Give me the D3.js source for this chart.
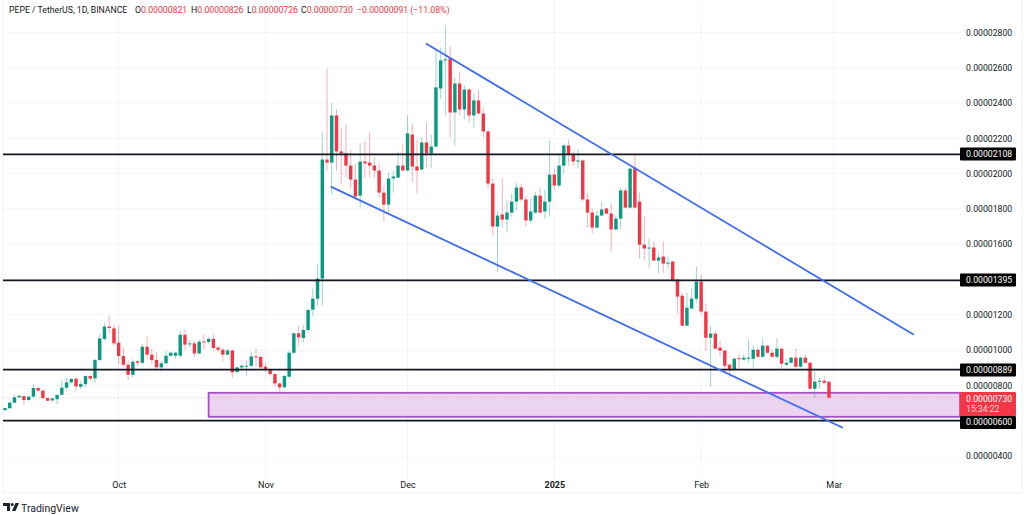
<!DOCTYPE html>
<html>
<head>
<meta charset="utf-8">
<script src="https://cdn.jsdelivr.net/npm/d3@7"></script>
<style>
  html, body { margin: 0; padding: 0; background: #fff; }
  svg { display: block; font-family: Roboto, "Liberation Sans", sans-serif; }
</style>
</head>
<body>
<script>
// All prices are in units of 0.00000001 USDT
var opens = [
  660,671,702,732,739,717,736,785,770,728,
  715,722,747,787,817,838,792,807,853,840,
  944,1063,1133,1123,1042,966,917,860,936,928,
  1019,974,944,902,925,968,968,968,1087,1032,
  1038,981,1049,1046,1063,1014,1002,974,998,876,
  902,910,911,964,961,906,887,864,811,789,
  849,985,1095,1068,1114,1229,1291,1405,2079,2062,
  2329,2125,2114,2045,1966,1875,2068,2062,2045,2017,
  1892,1824,1972,1977,2045,2017,2221,2040,2023,2176,
  2114,2153,2482,2641,2652,2346,2510,2363,2476,2329,
  2414,2340,2238,1943,1700,1768,1739,1779,1841,1921,
  1853,1734,1779,1875,1785,1841,1994,1932,2045,2159,
  2108,2068,2074,1853,1779,1694,1762,1802,1773,1683,
  1745,1904,1807,2034,1841,1597,1575,1581,1507,1530,
  1490,1501,1399,1308,1138,1235,1291,1388,1218,1070,
  1093,1014,997,917,889,954,946,951,951,1002,
  962,1025,985,962,1008,917,928,957,906,957,
  928,781,821,826,821
];
var closes = [
  671,702,732,741,717,736,785,770,728,713,
  726,745,787,817,836,794,807,853,838,944,
  1066,1133,1125,1038,966,917,860,934,928,1019,
  974,944,902,925,968,985,985,1087,1031,1038,
  981,1048,1046,1063,1012,1002,974,998,874,902,
  911,911,964,959,902,887,864,811,789,853,
  985,1095,1072,1114,1227,1291,1405,2079,2062,2329,
  2125,2114,2045,1966,1870,2068,2057,2045,2017,1892,
  1824,1972,1983,2045,2017,2227,2040,2017,2176,2114,
  2153,2488,2641,2647,2346,2510,2363,2476,2329,2414,
  2340,2238,1943,1700,1762,1739,1779,1841,1921,1853,
  1734,1785,1875,1779,1841,1994,1932,2045,2159,2108,
  2068,2074,1853,1779,1694,1762,1796,1773,1683,1745,
  1904,1807,2028,1807,1597,1575,1581,1507,1524,1490,
  1495,1393,1303,1138,1240,1291,1388,1218,1070,1093,
  1008,997,911,889,951,951,957,957,1002,962,
  1025,985,962,1008,923,928,957,906,957,928,
  781,821,826,815,730
];
var highs = [
  675,713,747,747,745,743,804,792,777,732,
  728,751,830,845,842,842,826,857,860,949,
  1091,1151,1195,1144,1138,1015,940,949,944,1034,
  1076,1006,987,940,996,993,990,1110,1114,1057,
  1049,1057,1091,1072,1087,1025,1015,1006,1000,906,
  917,940,987,1006,968,930,893,872,817,860,
  997,1100,1138,1144,1238,1348,1484,2238,2595,2399,
  2363,2261,2278,2131,2057,2170,2182,2233,2091,2057,
  1932,2006,2017,2125,2165,2329,2284,2187,2204,2289,
  2221,2698,2715,2839,2720,2544,2573,2499,2482,2454,
  2471,2369,2250,1972,1790,1972,1847,1887,1949,1943,
  1875,1858,1898,1921,1909,2187,2028,2114,2170,2193,
  2125,2136,2079,1892,1802,1790,1841,1805,1830,1762,
  1921,1921,2034,2102,1892,1756,1632,1615,1552,1615,
  1530,1507,1405,1325,1325,1348,1473,1427,1263,1138,
  1110,1053,1002,923,957,979,979,1059,1025,1014,
  1070,1027,1002,1065,1014,951,962,1008,962,974,
  934,877,843,855,826
];
var lows = [
  656,666,698,728,690,713,732,766,722,709,
  709,694,743,779,811,773,779,789,826,817,
  936,1053,1091,1025,921,902,830,845,911,921,
  949,925,893,879,921,962,949,955,1000,1015,
  962,978,1006,1034,1000,987,936,968,842,868,
  893,855,908,911,887,874,849,792,766,785,
  842,978,1025,1044,1100,1195,1252,1252,2017,1881,
  2017,1943,1977,1915,1847,1807,1977,1977,1977,1864,
  1728,1779,1892,1977,2011,2011,1949,1887,2017,2034,
  2034,2148,2420,2329,2204,2159,2329,2306,2289,2261,
  2335,2204,1915,1649,1439,1694,1666,1756,1790,1841,
  1700,1722,1773,1773,1745,1756,1909,1921,2000,2045,
  2045,2028,1841,1694,1660,1688,1756,1768,1558,1677,
  1683,1802,1802,1802,1518,1507,1467,1505,1433,1439,
  1461,1388,1206,1136,1136,1229,1269,1201,997,792,
  1006,962,877,843,883,889,940,928,900,957,
  957,979,957,951,889,911,923,900,900,923,
  779,730,781,809,726
];

var firstDay = new Date(Date.UTC(2024, 8, 7)),
    lastDay = new Date(Date.UTC(2025, 1, 28));
var days = d3.utcDays(firstDay, d3.utcDay.offset(lastDay, 1));

var priceTicks = [400, 600, 800, 1000, 1200, 1400, 1600, 1800, 2000, 2200, 2400, 2600, 2800];
var monthTicks = [[2024, 9, "Oct"], [2024, 10, "Nov"], [2024, 11, "Dec"], [2025, 0, "2025"], [2025, 1, "Feb"], [2025, 2, "Mar"]];
var levels = [2108, 1395, 889, 600];

// Drawn objects: [date, price] end points
var upperTrend = [[Date.UTC(2024, 11, 4, 21), 2737], [Date.UTC(2025, 2, 17, 22), 1087]];
var lowerTrend = [[Date.UTC(2024, 10, 14, 19), 1926], [Date.UTC(2025, 2, 2, 22), 560]];
var zoneStart = Date.UTC(2024, 9, 20), zoneTop = 758, zoneBottom = 622;
var lastPrice = 730, countdown = "15:34:22";

var titleText = "PEPE / TetherUS, 1D, BINANCE";
var ohlcText = [["O", "0.00000821", 135], ["H", "0.00000826", 191], ["L", "0.00000726", 247], ["C", "0.00000730", 301]];
var changeText = "\u22120.00000091 (\u221211.08%)";

var width = 1024, height = 515;
var plot = {left: 3, right: 960, top: 0, bottom: 480};

var green = "#089981", red = "#f23645", ink = "#131722", gridColor = "#f3f4f8";

var x = d3.scaleUtc().domain([firstDay, lastDay]).range([5, 829]);
var y = d3.scaleLinear().domain([400, 2800]).range([456, 32.3]);
var fmt = function(d) { return (d * 1e-8).toFixed(8); };

var svg = d3.select("body").append("svg")
    .attr("width", width)
    .attr("height", height);

// Frame of the pane
svg.append("path")
    .attr("d", "M3,0V493H1022V0")
    .attr("fill", "none")
    .attr("stroke", "#eef0f5");

// Grid
svg.append("g").selectAll("line")
    .data(priceTicks)
    .enter().append("line")
    .attr("x1", plot.left).attr("x2", plot.right)
    .attr("y1", d => y(d)).attr("y2", d => y(d))
    .attr("stroke", gridColor);

svg.append("g").selectAll("line")
    .data(monthTicks)
    .enter().append("line")
    .attr("x1", d => x(Date.UTC(d[0], d[1], 1))).attr("x2", d => x(Date.UTC(d[0], d[1], 1)))
    .attr("y1", plot.top).attr("y2", plot.bottom)
    .attr("stroke", gridColor);

// Purple zone
svg.append("rect")
    .attr("x", x(zoneStart))
    .attr("y", y(zoneTop))
    .attr("width", plot.right - x(zoneStart))
    .attr("height", y(zoneBottom) - y(zoneTop))
    .attr("fill", "#ead4f0")
    .attr("stroke", "#a951c4")
    .attr("stroke-width", 1.8);

// Last price line
svg.append("line")
    .attr("x1", plot.left).attr("x2", plot.right)
    .attr("y1", y(lastPrice)).attr("y2", y(lastPrice))
    .attr("stroke", red)
    .attr("stroke-opacity", 0.25)
    .attr("stroke-dasharray", "1 2");

// Candles
var candle = svg.append("g").selectAll("g")
    .data(days)
    .enter().append("g")
    .attr("transform", d => `translate(${x(d)},0)`)
    .attr("fill", (d, i) => closes[i] >= opens[i] ? green : red)
    .attr("stroke", (d, i) => closes[i] >= opens[i] ? green : red);

candle.append("line")
    .attr("y1", (d, i) => y(highs[i]))
    .attr("y2", (d, i) => y(lows[i]))
    .attr("stroke-opacity", 0.4);

candle.append("rect")
    .attr("x", -1.7)
    .attr("width", 3.4)
    .attr("y", (d, i) => y(Math.max(opens[i], closes[i])))
    .attr("height", (d, i) => Math.max(1, Math.abs(y(opens[i]) - y(closes[i]))))
    .attr("stroke", "none");

// Horizontal levels
svg.append("g").selectAll("line")
    .data(levels)
    .enter().append("line")
    .attr("x1", plot.left).attr("x2", plot.right)
    .attr("y1", d => y(d)).attr("y2", d => y(d))
    .attr("stroke", ink)
    .attr("stroke-width", 1.8);

// Trend lines
var trend = d3.line().x(d => x(d[0])).y(d => y(d[1]));
svg.append("g").selectAll("path")
    .data([upperTrend, lowerTrend])
    .enter().append("path")
    .attr("d", trend)
    .attr("fill", "none")
    .attr("stroke", "#3f6cf0")
    .attr("stroke-width", 1.8);

// Price axis
var yAxis = svg.append("g")
    .attr("transform", `translate(${plot.right},0)`)
    .call(d3.axisRight(y).tickValues(priceTicks).tickSize(0).tickPadding(6).tickFormat(fmt));
yAxis.select(".domain").remove();
yAxis.selectAll("text")
    .attr("fill", ink)
    .attr("font-family", "Roboto, sans-serif")
    .attr("font-size", 8.7);

// Time axis
var xAxis = svg.append("g")
    .attr("transform", "translate(0,478.5)")
    .call(d3.axisBottom(x)
        .tickValues(monthTicks.map(d => new Date(Date.UTC(d[0], d[1], 1))))
        .tickSize(0)
        .tickPadding(3)
        .tickFormat((d, i) => monthTicks[i][2]));
xAxis.select(".domain").remove();
xAxis.selectAll("text")
    .attr("fill", ink)
    .attr("font-family", "Roboto, sans-serif")
    .attr("font-size", 9)
    .attr("font-weight", (d, i) => monthTicks[i][2] == "2025" ? "bold" : "normal");

// Last price label
svg.append("rect")
    .attr("x", 960).attr("y", 392)
    .attr("width", 56).attr("height", 24)
    .attr("rx", 1)
    .attr("fill", red);
svg.append("text")
    .attr("x", 966).attr("y", 401.5)
    .attr("fill", "#fff")
    .attr("font-size", 8.7)
    .text(fmt(lastPrice));
svg.append("text")
    .attr("x", 966).attr("y", 412)
    .attr("fill", "#fff")
    .attr("fill-opacity", 0.8)
    .attr("font-size", 8.7)
    .text(countdown);

// Level labels
var levelLabel = svg.append("g").selectAll("g")
    .data(levels)
    .enter().append("g")
    .attr("transform", d => `translate(960,${Math.round(y(d)) + (d == 600 ? 1.5 : 0)})`);
levelLabel.append("rect")
    .attr("y", -6.5)
    .attr("width", 56).attr("height", 13)
    .attr("rx", 1)
    .attr("fill", "#000");
levelLabel.append("text")
    .attr("x", 6).attr("dy", "0.32em")
    .attr("fill", "#fff")
    .attr("font-size", 8.7)
    .text(fmt);

// Header
var header = svg.append("g").attr("font-size", 8.7);
header.append("text")
    .attr("x", 9).attr("y", 12.5)
    .attr("fill", ink)
    .text(titleText);
header.selectAll(".ohlc")
    .data(ohlcText)
    .enter().append("text")
    .attr("class", "ohlc")
    .attr("x", d => d[2]).attr("y", 12.5)
    .attr("fill", ink)
    .text(d => d[0])
    .append("tspan")
    .attr("fill", red)
    .text(d => d[1]);
header.append("text")
    .attr("x", 357).attr("y", 12.5)
    .attr("fill", red)
    .text(changeText);

// TradingView mark
var logo = svg.append("g").attr("transform", "translate(3,503)").attr("fill", "#1e222d");
logo.append("path").attr("d", "M0,0H7V8H4V3H0Z");
logo.append("circle").attr("cx", 9.2).attr("cy", 1.5).attr("r", 1.5);
logo.append("path").attr("d", "M12.5,0H16L12.5,8H9Z");
svg.append("text")
    .attr("x", 21).attr("y", 512)
    .attr("fill", "#1e222d")
    .attr("font-size", 10.5)
    .text("TradingView");
</script>
</body>
</html>
